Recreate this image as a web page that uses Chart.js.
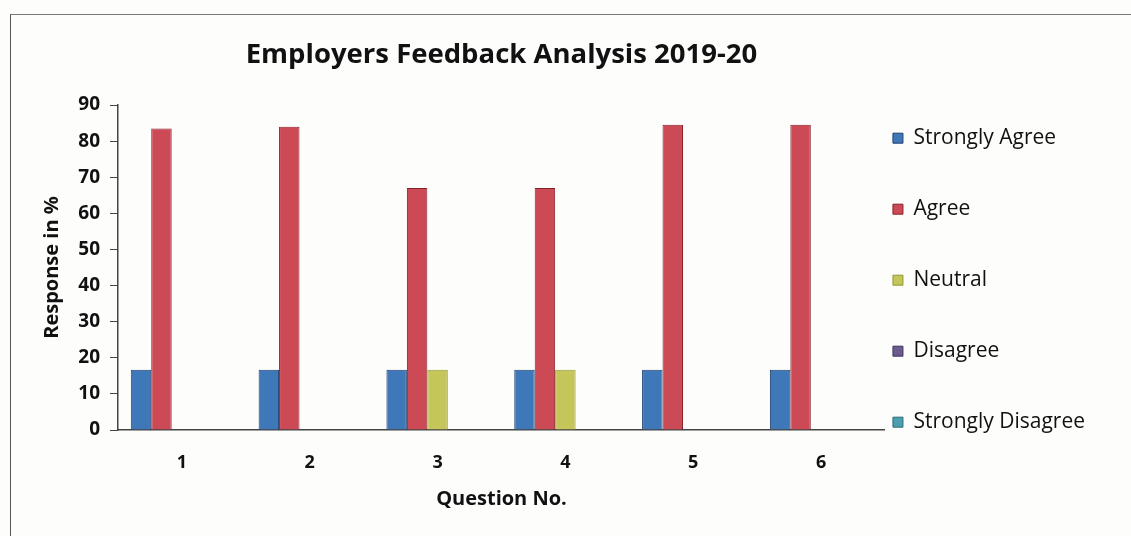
<!DOCTYPE html>
<html>
<head>
<meta charset="utf-8">
<script src="https://cdn.jsdelivr.net/npm/chart.js@4.4.1/dist/chart.umd.min.js"></script>
<style>
    html, body { margin: 0; padding: 0; background: #fdfdfc; overflow: hidden; }
    #frame {
        position: absolute; left: 10px; top: 14px; width: 1200px; height: 600px;
        border-left: 1px solid #555; border-top: 1px solid #777;
    }
    #wrap { position: absolute; left: 0; top: 0; width: 1131px; height: 536px; }
</style>
</head>
<body>
<div id="frame"></div>
<div id="wrap"><canvas id="feedbackChart" width="1131" height="536"></canvas></div>
<script>
// question numbers on the x axis
const questions = ['1', '2', '3', '4', '5', '6'];

// responses in % per question
const stronglyAgree = [16.7, 16.7, 16.7, 16.7, 16.7, 16.7];
const agree = [83.5, 84, 67, 67, 84.5, 84.5];
const neutral = [0, 0, 16.7, 16.7, 0, 0];
const disagree = [0, 0, 0, 0, 0, 0];
const stronglyDisagree = [0, 0, 0, 0, 0, 0];

const yTicks = [0, 10, 20, 30, 40, 50, 60, 70, 80, 90];

const FONT = '"Open Sans", Lato, sans-serif';

function makeDataset(label, data, fill, border) {
    return {
        label: label,
        data: data,
        backgroundColor: fill,
        borderColor: border,
        borderWidth: 1
    };
}

const ctx = document.getElementById('feedbackChart').getContext('2d');
const feedbackChart = new Chart(ctx, {
    type: 'bar',
    data: {
        labels: questions,
        datasets: [
            makeDataset('Strongly Agree', stronglyAgree, '#3f78b9', '#1f3f70'),
            makeDataset('Agree', agree, '#cb4a56', '#8a1f25'),
            makeDataset('Neutral', neutral, '#c4c65a', '#8f9a35'),
            makeDataset('Disagree', disagree, '#6b5b8e', '#3e3260'),
            makeDataset('Strongly Disagree', stronglyDisagree, '#4a9fb0', '#2c6b78')
        ]
    },
    options: {
        responsive: false,
        animation: false,
        events: [],
        datasets: {
            bar: { categoryPercentage: 0.8, barPercentage: 1.0 }
        },
        layout: {
            padding: { top: 14, left: 20, right: 36, bottom: 10 }
        },
        plugins: {
            title: {
                display: true,
                text: 'Employers Feedback Analysis 2019-20',
                fullSize: false,
                color: '#111',
                font: { family: FONT, size: 27.5, weight: 'bold' },
                padding: { top: 25, bottom: 33 }
            },
            legend: {
                position: 'right',
                title: {
                    display: true,
                    text: '',
                    font: { size: 12 },
                    padding: { top: 0, bottom: 48 }
                },
                labels: {
                    color: '#111',
                    boxWidth: 10,
                    boxHeight: 10,
                    padding: 8,
                    font: { family: FONT, size: 21, lineHeight: 3.0 },
                    generateLabels: function (chart) {
                        const items = Chart.defaults.plugins.legend.labels.generateLabels(chart);
                        // wrap text in an array so each entry takes the tall line height
                        items.forEach(item => { item.text = [item.text]; });
                        return items;
                    }
                }
            },
            tooltip: { enabled: false }
        },
        scales: {
            x: {
                grid: { display: false },
                border: { display: true, color: '#444', width: 1.5 },
                ticks: {
                    color: '#111',
                    padding: 14,
                    font: { family: FONT, size: 18, weight: 'bold' }
                },
                title: {
                    display: true,
                    text: 'Question No.',
                    color: '#111',
                    font: { family: FONT, size: 20, weight: 'bold' },
                    padding: { top: 8, bottom: 15 }
                },
                afterFit: function (scale) { scale.height = 96; }
            },
            y: {
                min: 0,
                max: 90,
                grid: {
                    display: true,
                    drawOnChartArea: false,
                    drawTicks: true,
                    tickLength: 8,
                    color: '#444'
                },
                border: { display: true, color: '#444', width: 1.5 },
                afterBuildTicks: function (scale) {
                    scale.ticks = yTicks.map(v => ({ value: v }));
                },
                ticks: {
                    color: '#111',
                    padding: 10,
                    font: { family: FONT, size: 19, weight: 'bold' }
                },
                title: {
                    display: true,
                    text: 'Response in %',
                    color: '#111',
                    font: { family: FONT, size: 20, weight: 'bold' },
                    padding: { top: 20, bottom: 4 }
                },
                afterFit: function (scale) { scale.width = 98; }
            }
        }
    }
});
</script>
</body>
</html>
